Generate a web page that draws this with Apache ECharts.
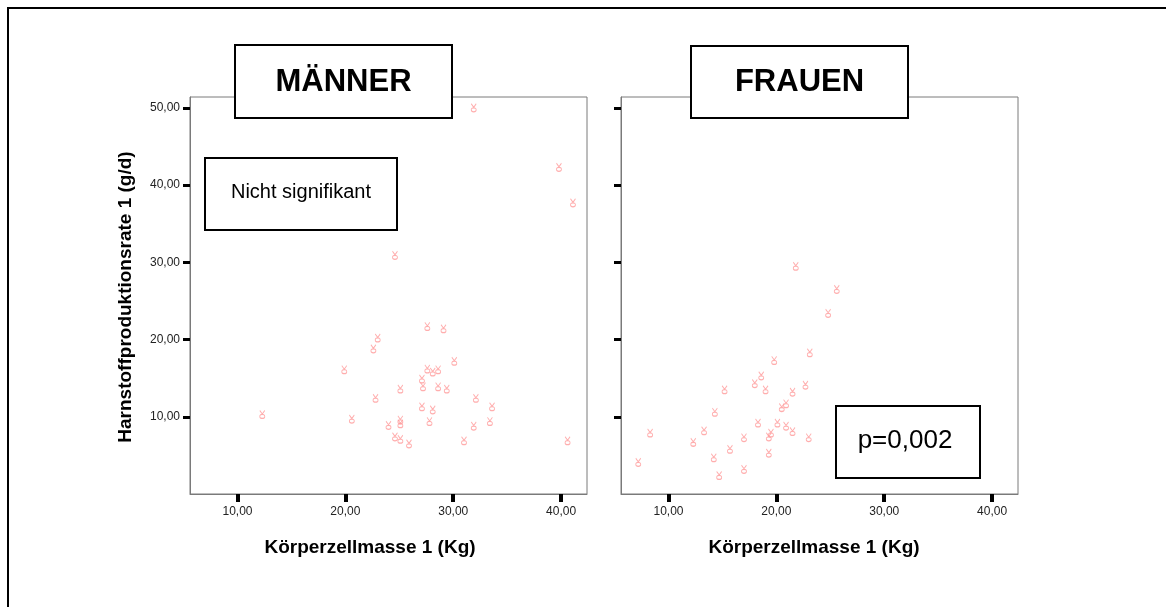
<!DOCTYPE html>
<html>
<head>
<meta charset="utf-8">
<script src="https://cdn.jsdelivr.net/npm/echarts@6/dist/echarts.min.js"></script>
<style>
  html, body { margin: 0; padding: 0; background: #fff; }
  #chart { width: 1166px; height: 607px; }
</style>
</head>
<body>
<div id="chart"></div>
<script>
// Körperzellmasse (kg) vs. Harnstoffproduktionsrate (g/d), split by sex
const maennerKzm = [31.9, 39.8, 41.1, 24.6, 27.6, 29.1, 23.0, 22.6, 30.1, 19.9, 27.6, 28.1, 28.6, 27.1,
  25.1, 27.2, 28.6, 29.4, 22.8, 32.1, 27.1, 28.1, 12.3, 33.6, 20.6, 25.1, 25.1, 27.8, 24.0, 31.9,
  33.4, 24.6, 25.1, 25.9, 31.0, 40.6];
const maennerHpr = [50.0, 42.3, 37.7, 30.9, 21.7, 21.4, 20.2, 18.8, 17.2, 16.1, 16.2, 15.8, 16.1, 14.9,
  13.6, 13.9, 13.9, 13.6, 12.4, 12.4, 11.3, 10.9, 10.3, 11.3, 9.7, 9.6, 9.1, 9.4, 8.9, 8.8,
  9.4, 7.4, 7.1, 6.5, 6.9, 6.9];

const frauenKzm = [21.8, 25.6, 24.8, 23.1, 19.8, 18.6, 18.0, 15.2, 19.0, 21.5, 22.7, 20.9, 20.5, 14.3,
  18.3, 20.1, 20.9, 13.3, 8.3, 19.5, 19.3, 21.5, 23.0, 17.0, 12.3, 15.7, 14.2, 19.3, 7.2, 17.0, 14.7];
const frauenHpr = [29.5, 26.5, 23.4, 18.3, 17.3, 15.3, 14.3, 13.5, 13.5, 13.2, 14.1, 11.7, 11.2, 10.6,
  9.2, 9.2, 8.8, 8.2, 7.9, 7.9, 7.4, 8.1, 7.3, 7.3, 6.7, 5.8, 4.7, 5.3, 4.1, 3.2, 2.4];

const xTicks = [10, 20, 30, 40];
const yTicks = [10, 20, 30, 40, 50];

const panelTitles = ['MÄNNER', 'FRAUEN'];
const notes = ['Nicht signifikant', 'p=0,002'];
const xTitle = 'Körperzellmasse 1 (Kg)';
const yTitle = 'Harnstoffproduktionsrate 1 (g/d)';

const fmt = v => v.toFixed(2).replace('.', ',');
const pairs = (xs, ys) => xs.map((x, i) => [x, ys[i]]);

const FONT = '"Liberation Sans", Arial, sans-serif';
const markerPath = 'path://M0,0 L2.5,3.5 L5,0 M2.5,4 C1,4 0,5 0,6 C0,7 1,8 2.5,8 C4,8 5,7 5,6 C5,5 4,4 2.5,4 Z';

function xAxis(gridIndex) {
  return {
    type: 'value', gridIndex, min: 5.6, max: 42.4,
    splitLine: { show: false },
    axisLine: { show: true, lineStyle: { color: '#7a7a7a', width: 1 } },
    axisTick: { show: true, customValues: xTicks, length: 8, lineStyle: { color: '#000', width: 4 } },
    axisLabel: { customValues: xTicks, formatter: fmt, margin: 12, color: '#222', fontSize: 12, fontFamily: FONT }
  };
}
function yAxis(gridIndex, labels) {
  return {
    type: 'value', gridIndex, min: 0, max: 51.4,
    splitLine: { show: false },
    axisLine: { show: true, lineStyle: { color: '#7a7a7a', width: 1 } },
    axisTick: { show: true, customValues: yTicks, length: 7, lineStyle: { color: '#000', width: 3 } },
    axisLabel: { show: labels, customValues: yTicks, formatter: fmt, margin: 10, color: '#222', fontSize: 12, fontFamily: FONT }
  };
}
function scatter(idx, data) {
  return {
    type: 'scatter', xAxisIndex: idx, yAxisIndex: idx, data,
    symbol: markerPath, symbolSize: [5, 8],
    itemStyle: { color: 'rgba(0,0,0,0)', borderColor: '#ff9a9a', borderWidth: 1 },
    emphasis: { disabled: true }, silent: true
  };
}
function box(x, y, w, h) {
  return { type: 'rect', shape: { x, y, width: w, height: h }, style: { fill: '#fff', stroke: '#000', lineWidth: 2 }, z: 100 };
}
function label(text, x, y, size, weight, extra) {
  return Object.assign({
    type: 'text', x, y, z: 101,
    style: { text, fontSize: size, fontWeight: weight, fontFamily: FONT, fill: '#000', align: 'center', verticalAlign: 'middle' }
  }, extra || {});
}

const chart = echarts.init(document.getElementById('chart'), null, { renderer: 'canvas' });
chart.setOption({
  animation: false,
  backgroundColor: '#fff',
  grid: [
    { left: 190, top: 97, width: 397, height: 397, show: true, borderColor: '#7a7a7a', borderWidth: 1, backgroundColor: '#fff' },
    { left: 621, top: 97, width: 397, height: 397, show: true, borderColor: '#7a7a7a', borderWidth: 1, backgroundColor: '#fff' }
  ],
  xAxis: [xAxis(0), xAxis(1)],
  yAxis: [yAxis(0, true), yAxis(1, false)],
  series: [scatter(0, pairs(maennerKzm, maennerHpr)), scatter(1, pairs(frauenKzm, frauenHpr))],
  graphic: [
    { type: 'rect', shape: { x: 8, y: 8, width: 1200, height: 650 }, style: { fill: 'none', stroke: '#000', lineWidth: 2 }, z: 1, silent: true },
    box(235, 45, 217, 73), label(panelTitles[0], 343.5, 82, 31, 'bold'),
    box(691, 46, 217, 72), label(panelTitles[1], 799.5, 82, 31, 'bold'),
    box(205, 158, 192, 72), label(notes[0], 301, 192, 20, 'normal'),
    box(836, 406, 144, 72), label(notes[1], 905, 441, 26, 'normal'),
    label(yTitle, 126, 297, 19, 'bold', { rotation: Math.PI / 2 }),
    label(xTitle, 370, 548, 19, 'bold'),
    label(xTitle, 814, 548, 19, 'bold')
  ]
});
</script>
</body>
</html>
